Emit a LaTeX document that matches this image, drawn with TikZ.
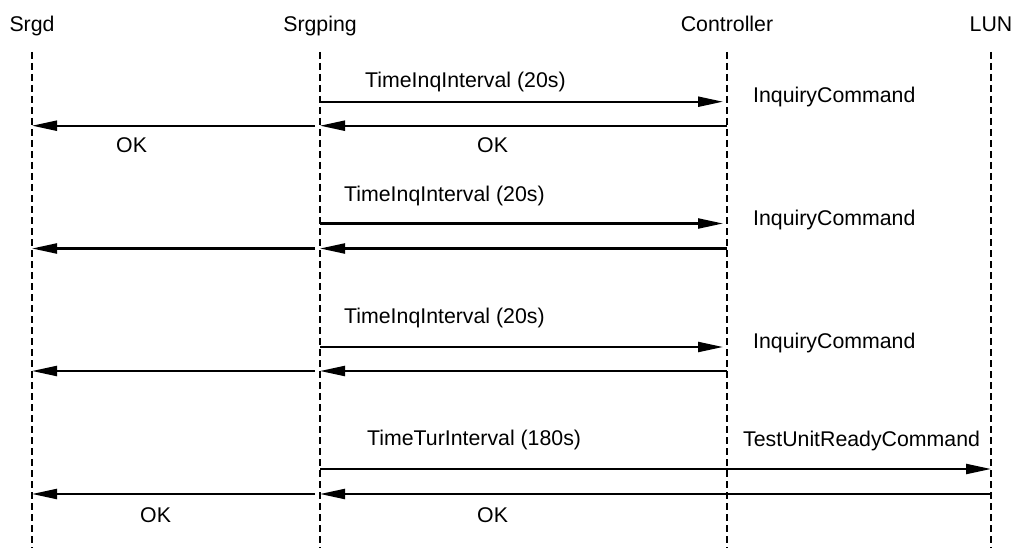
\documentclass[tikz,border=0pt]{standalone}
\usepackage{fontspec}
\setmainfont{Liberation Sans}
\usetikzlibrary{arrows.meta}

\begin{document}
\begin{tikzpicture}[
      x=1pt,
      y=-1pt,
      font=\fontsize{21.3}{25}\selectfont,
      actor/.style={
          anchor=base,
          inner sep=0pt
        },
      msgtext/.style={
          anchor=base west,
          inner sep=0pt
        },
      lifeline/.style={
          dash pattern=on 7pt off 4pt,
          line width=1.6pt
        },
      arrow/.style={
          -{Triangle[length=25pt,width=10pt]},
          line width=2.2pt
        }
    ]
    \useasboundingbox (0,0) rectangle (1019,548);

    % Nodes
    \node[actor] (srgd) at (32,32) {Srgd};
    \node[actor] (srgping) at (320,32) {Srgping};
    \node[actor] (ctrl) at (727,32) {Controller};
    \node[actor] (lun) at (991,32) {LUN};

    % Lifelines
    \foreach \n in {srgd,srgping,ctrl,lun}
      \draw[lifeline] (\n |- 0,52) -- (\n |- 0,548);

    % Rows
    \coordinate (c1) at (0,101.7);
    \coordinate (r1) at (0,125.7);
    \coordinate (c2) at (0,223.5);
    \coordinate (r2) at (0,248.5);
    \coordinate (c3) at (0,347);
    \coordinate (r3) at (0,371);
    \coordinate (c4) at (0,469);
    \coordinate (r4) at (0,494);

    % Texts
    \node[msgtext] (inq1) at (365,88) {TimeInqInterval (20s)};
    \node[msgtext] (cmd1) at (753,103) {InquiryCommand};
    \node[msgtext] (ok1a) at (116,153) {OK};
    \node[msgtext] (ok1b) at (477,153) {OK};
    \node[msgtext] (inq2) at (344,201) {TimeInqInterval (20s)};
    \node[msgtext] (cmd2) at (753,225) {InquiryCommand};
    \node[msgtext] (inq3) at (344,323) {TimeInqInterval (20s)};
    \node[msgtext] (cmd3) at (753,348) {InquiryCommand};
    \node[msgtext] (tur) at (367,445) {TimeTurInterval (180s)};
    \node[msgtext] (tur-cmd) at (743,446) {TestUnitReadyCommand};
    \node[msgtext] (ok4a) at (140,522) {OK};
    \node[msgtext] (ok4b) at (477,522) {OK};

    % Arrows
    \draw[arrow, shorten >=4pt] (srgping |- c1) -- (ctrl |- c1);
    \draw[arrow] (ctrl |- r1) -- (srgping |- r1);
    \draw[arrow, shorten <=5pt] (srgping |- r1) -- (srgd |- r1);
    \draw[arrow, shorten >=4pt] (srgping |- c2) -- (ctrl |- c2);
    \draw[arrow] (ctrl |- r2) -- (srgping |- r2);
    \draw[arrow, shorten <=5pt] (srgping |- r2) -- (srgd |- r2);
    \draw[arrow, shorten >=4pt] (srgping |- c3) -- (ctrl |- c3);
    \draw[arrow] (ctrl |- r3) -- (srgping |- r3);
    \draw[arrow, shorten <=5pt] (srgping |- r3) -- (srgd |- r3);
    \draw[arrow] (srgping |- c4) -- (lun |- c4);
    \draw[arrow] (lun |- r4) -- (srgping |- r4);
    \draw[arrow, shorten <=5pt] (srgping |- r4) -- (srgd |- r4);

  \end{tikzpicture}
\end{document}
